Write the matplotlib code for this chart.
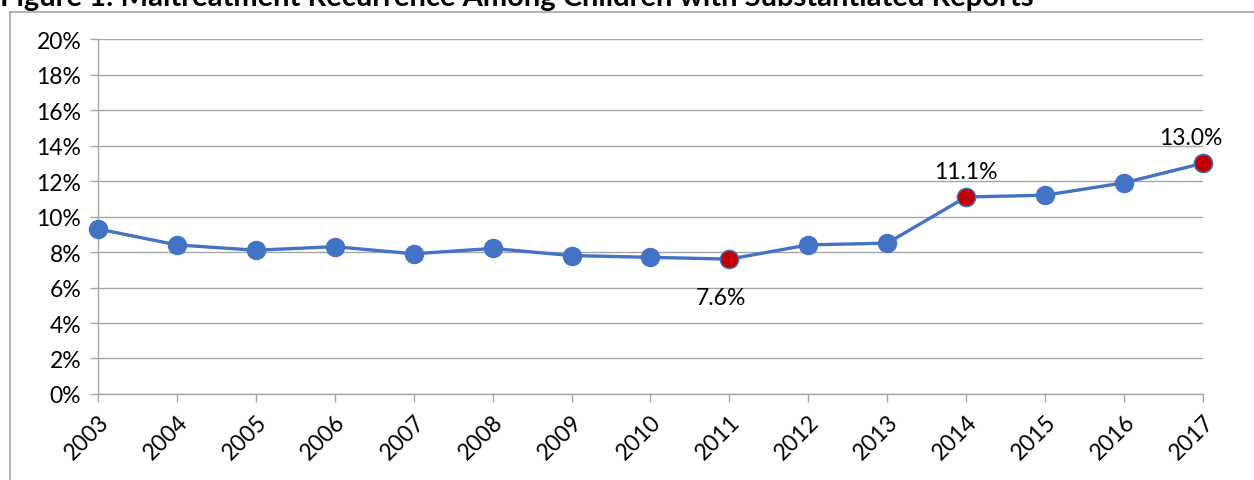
import matplotlib.pyplot as plt
from matplotlib.lines import Line2D
from matplotlib.ticker import FuncFormatter, MultipleLocator

years = ['2003', '2004', '2005', '2006', '2007', '2008', '2009', '2010',
         '2011', '2012', '2013', '2014', '2015', '2016', '2017']
rates = [9.3, 8.4, 8.1, 8.3, 7.9, 8.2, 7.8, 7.7, 7.6, 8.4, 8.5, 11.1, 11.2, 11.9, 13.0]
# points highlighted in red, with their labels
highlight = {'2011': '7.6%', '2014': '11.1%', '2017': '13.0%'}

title = 'Figure 1: Maltreatment Recurrence Among Children with Substantiated Reports'

plt.rcParams['font.family'] = ['Lato', 'DejaVu Sans']
blue = '#4472C4'
red = '#C00000'
grid = '#A6A6A6'

fig = plt.figure(figsize=(12.54, 4.81), dpi=100)
ax = fig.add_axes([0.0781, 0.1788, 0.8812, 0.7380])

x = list(range(len(years)))
ax.plot(x, rates, color=blue, lw=2.4, marker='o', ms=13,
        mfc=blue, mec=blue, zorder=3, clip_on=False)
for i, yr in enumerate(years):
    if yr in highlight:
        ax.plot(i, rates[i], 'o', ms=13, mfc=red, mec=blue, mew=1, zorder=4, clip_on=False)
        if yr == '2011':
            ax.annotate(highlight[yr], (i, rates[i]), xytext=(-6, -20),
                        textcoords='offset points', ha='center', va='top', fontsize=16.5)
        elif yr == '2017':
            ax.annotate(highlight[yr], (i, rates[i]), xytext=(-9, 11),
                        textcoords='offset points', ha='center', va='bottom', fontsize=16.5)
        else:
            ax.annotate(highlight[yr], (i, rates[i]), xytext=(0, 11),
                        textcoords='offset points', ha='center', va='bottom', fontsize=16.5)

ax.set_xlim(0, len(years) - 1)
ax.set_ylim(0, 20)
ax.yaxis.set_major_locator(MultipleLocator(2))
ax.yaxis.set_major_formatter(FuncFormatter(lambda v, p: f'{v:.0f}%'))
ax.set_xticks(x)
ax.set_xticklabels(years, rotation=45, ha='right', rotation_mode='anchor')
ax.grid(axis='y', color=grid, lw=1)
ax.set_axisbelow(True)
for s in ['top', 'right']:
    ax.spines[s].set_visible(False)
for s in ['left', 'bottom']:
    ax.spines[s].set_color(grid)
    ax.spines[s].set_linewidth(1)
ax.tick_params(axis='both', colors=grid, labelcolor='#000000', labelsize=16.5,
               length=6, width=1, pad=6)

# outer frame (left and top border of the figure box)
fig.add_artist(Line2D([0.008, 0.008], [0, 0.973], color='#A6A6A6', lw=1.2))
fig.add_artist(Line2D([0.008, 1.0], [0.973, 0.973], color='#A6A6A6', lw=1.2))

# title cut off at the top edge
fig.text(0.0, 0.988, title, fontsize=21, fontweight='bold',
         ha='left', va='baseline')

fig.savefig('out.png', dpi=100)
